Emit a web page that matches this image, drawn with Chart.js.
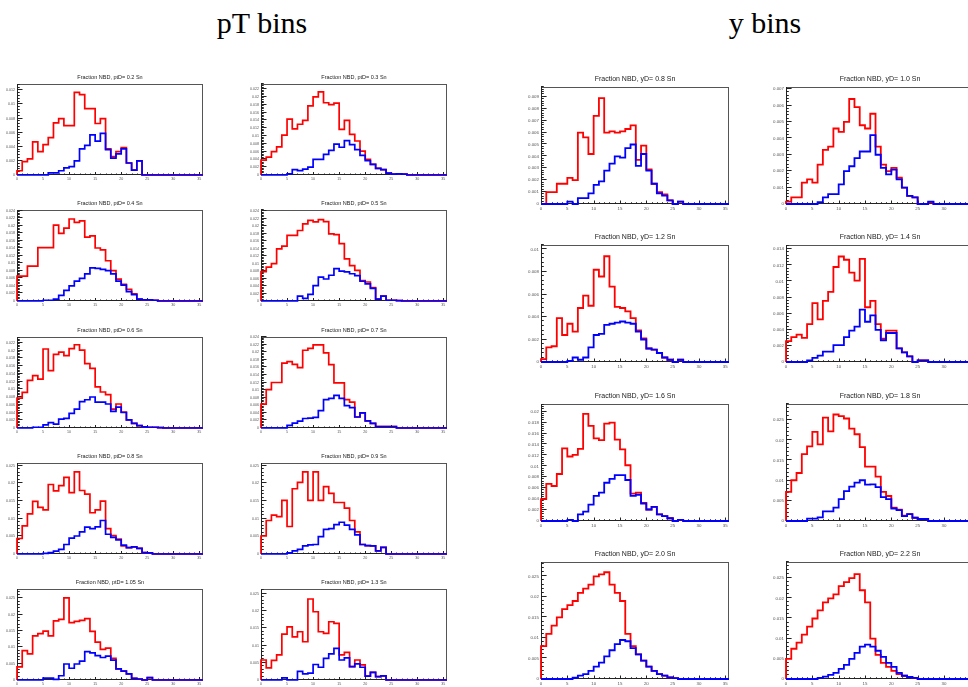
<!DOCTYPE html>
<html>
<head>
<meta charset="utf-8">
<title>NBD fractions</title>
<script src="https://cdn.jsdelivr.net/npm/chart.js@4.4.1/dist/chart.umd.min.js"></script>
<style>
  html, body { margin: 0; padding: 0; background: #fff; overflow: hidden; }
  body { width: 968px; height: 687px; position: relative; }
  .group-title {
    position: absolute;
    font-family: "Liberation Serif", "Times New Roman", serif;
    font-size: 30px;
    line-height: 30px;
    color: #000;
    transform: translateX(-50%);
    white-space: nowrap;
  }
  canvas { position: absolute; }
</style>
</head>
<body>
<div class="group-title" style="left:262px; top:8px;">pT bins</div>
<div class="group-title" style="left:765px; top:8px;">y bins</div>
<script>
// histograms: 36 unit bins starting at 0, missing trailing bins are empty
const NBINS = 36;
const X_MAX = 35.7;

// ---- pT bins ----
const ptTitles = [
  'Fraction NBD, ptD= 0.2 Sn', 'Fraction NBD, ptD= 0.3 Sn',
  'Fraction NBD, ptD= 0.4 Sn', 'Fraction NBD, ptD= 0.5 Sn',
  'Fraction NBD, ptD= 0.6 Sn', 'Fraction NBD, ptD= 0.7 Sn',
  'Fraction NBD, ptD= 0.8 Sn', 'Fraction NBD, ptD= 0.9 Sn',
  'Fraction NBD, ptD= 1.05 Sn', 'Fraction NBD, ptD= 1.3 Sn'
];
const ptRed = [
  [0.0006,0.0019,0.0023,0.0047,0.0033,0.0043,0.0053,0.0074,0.0080,0.0070,0.0070,0.0117,0.0114,0.0094,0.0094,0.0073,0.0080,0.0037,0.0026,0.0033,0.0039,0.0017,0.0007,0.0020],
  [0.0038,0.0046,0.0060,0.0072,0.0102,0.0143,0.0118,0.0130,0.0140,0.0177,0.0200,0.0213,0.0185,0.0180,0.0184,0.0117,0.0140,0.0104,0.0087,0.0061,0.0040,0.0027,0.0017,0.0014,0.0005,0.0002,0.0003,0.0002],
  [0.0066,0.0066,0.0093,0.0093,0.0142,0.0142,0.0142,0.0202,0.0180,0.0194,0.0218,0.0209,0.0213,0.0170,0.0173,0.0141,0.0136,0.0107,0.0081,0.0058,0.0044,0.0031,0.0019,0.0005,0.0003,0.0003,0.0002],
  [0.0079,0.0091,0.0100,0.0140,0.0147,0.0176,0.0176,0.0189,0.0207,0.0216,0.0212,0.0218,0.0213,0.0180,0.0178,0.0154,0.0113,0.0095,0.0082,0.0055,0.0051,0.0036,0.0005,0.0013,0.0002,0.0002,0.0001],
  [0.0077,0.0092,0.0123,0.0135,0.0126,0.0204,0.0148,0.0190,0.0196,0.0187,0.0205,0.0215,0.0201,0.0166,0.0154,0.0106,0.0093,0.0086,0.0049,0.0062,0.0041,0.0021,0.0012,0.0006,0.0003,0.0002,0.0002,0.0001],
  [0.0063,0.0101,0.0120,0.0120,0.0171,0.0175,0.0168,0.0159,0.0205,0.0210,0.0219,0.0219,0.0198,0.0167,0.0119,0.0119,0.0075,0.0068,0.0029,0.0040,0.0019,0.0012,0.0004,0.0004,0.0004,0.0004],
  [0.0044,0.0080,0.0114,0.0149,0.0132,0.0125,0.0197,0.0179,0.0194,0.0217,0.0174,0.0233,0.0180,0.0170,0.0117,0.0125,0.0150,0.0072,0.0052,0.0042,0.0023,0.0018,0.0020,0.0016,0.0004,0.0003],
  [0.0051,0.0095,0.0110,0.0106,0.0152,0.0078,0.0185,0.0203,0.0233,0.0152,0.0233,0.0152,0.0191,0.0172,0.0146,0.0146,0.0130,0.0095,0.0063,0.0027,0.0024,0.0023,0.0009,0.0019],
  [0.0040,0.0090,0.0080,0.0135,0.0142,0.0150,0.0135,0.0181,0.0186,0.0252,0.0176,0.0180,0.0183,0.0188,0.0149,0.0116,0.0094,0.0098,0.0066,0.0034,0.0027,0.0019,0.0005,0.0003,0,0.0007],
  [0.0058,0.0035,0.0057,0.0073,0.0133,0.0154,0.0125,0.0140,0.0111,0.0235,0.0198,0.0140,0.0135,0.0169,0.0164,0.0073,0.0080,0.0039,0.0058,0.0044,0.0011,0.0022,0.0010,0.0012]
];
const ptBlue = [
  [0,0,0,0,0,0,0.0003,0.0003,0.0006,0.0010,0.0012,0.0020,0.0037,0.0042,0.0057,0.0048,0.0059,0.0036,0.0024,0.0030,0.0037,0.0017,0.0007,0.0020],
  [0,0,0,0,0,0.0003,0.0014,0.0011,0.0015,0.0020,0.0040,0.0040,0.0053,0.0063,0.0079,0.0071,0.0088,0.0078,0.0065,0.0050,0.0037,0.0027,0.0017,0.0014,0.0005,0.0002,0.0003,0.0002],
  [0,0,0,0,0,0.0002,0.0002,0.0005,0.0015,0.0028,0.0040,0.0053,0.0060,0.0072,0.0088,0.0087,0.0084,0.0081,0.0072,0.0053,0.0042,0.0025,0.0017,0.0005,0.0003,0.0003,0.0002],
  [0,0,0,0,0,0,0,0.0013,0.0007,0.0018,0.0041,0.0064,0.0059,0.0069,0.0087,0.0080,0.0078,0.0073,0.0068,0.0053,0.0046,0.0034,0.0005,0.0013,0.0002,0.0002,0.0001],
  [0,0,0,0.0002,0.0002,0.0008,0.0014,0.0010,0.0023,0.0025,0.0038,0.0049,0.0068,0.0073,0.0080,0.0067,0.0067,0.0062,0.0043,0.0054,0.0040,0.0021,0.0012,0.0006,0.0003,0.0002,0.0002,0.0001],
  [0,0,0,0,0,0.0007,0.0013,0.0018,0.0025,0.0026,0.0028,0.0046,0.0075,0.0078,0.0086,0.0078,0.0059,0.0054,0.0029,0.0040,0.0019,0.0012,0.0004,0.0004,0.0004,0.0004],
  [0,0,0,0,0,0.0002,0.0004,0.0008,0.0013,0.0027,0.0045,0.0051,0.0063,0.0076,0.0072,0.0077,0.0095,0.0056,0.0047,0.0040,0.0025,0.0018,0.0020,0.0016,0.0004,0.0003],
  [0,0,0,0,0,0.0003,0.0009,0.0013,0.0023,0.0026,0.0027,0.0049,0.0070,0.0072,0.0083,0.0090,0.0082,0.0070,0.0054,0.0027,0.0024,0.0023,0.0009,0.0019],
  [0,0,0,0,0,0.0006,0.0006,0.0002,0.0013,0.0049,0.0036,0.0049,0.0058,0.0087,0.0083,0.0075,0.0069,0.0073,0.0061,0.0034,0.0027,0.0019,0.0005,0.0003,0,0.0007],
  [0,0,0,0,0.0006,0,0,0.0025,0.0018,0.0020,0.0045,0.0037,0.0063,0.0076,0.0092,0.0058,0.0064,0.0039,0.0047,0.0037,0.0011,0.0022,0.0010,0.0012]
];
const ptYMax = [0.0129, 0.0233, 0.0242, 0.0244, 0.0235, 0.0240, 0.0258, 0.0258, 0.0279, 0.0264];
const ptYStep = [0.002, 0.002, 0.002, 0.002, 0.002, 0.002, 0.005, 0.005, 0.005, 0.005];

// ---- y bins ----
const yTitles = [
  'Fraction NBD, yD= 0.8 Sn', 'Fraction NBD, yD= 1.0 Sn',
  'Fraction NBD, yD= 1.2 Sn', 'Fraction NBD, yD= 1.4 Sn',
  'Fraction NBD, yD= 1.6 Sn', 'Fraction NBD, yD= 1.8 Sn',
  'Fraction NBD, yD= 2.0 Sn', 'Fraction NBD, yD= 2.2 Sn'
];
const yRed = [
  [0,0.0010,0.0010,0.0017,0.0017,0.0022,0.0020,0.0060,0.0056,0.0042,0.0074,0.0089,0.0060,0.0061,0.0060,0.0061,0.0063,0.0066,0.0037,0.0049,0.0029,0.0017,0.0010,0.0008,0.0003,0,0.0002],
  [0.00015,0.0004,0.0004,0.0013,0.0015,0.0013,0.0024,0.0033,0.0035,0.0046,0.0044,0.0050,0.0064,0.0059,0.0048,0.0046,0.0055,0.0035,0.0024,0.0020,0.0022,0.0016,0.0010,0.0005,0.0004,0,0,0.0001],
  [0.00025,0.0013,0.0014,0.0039,0.0024,0.0034,0.0027,0.0048,0.0059,0.0050,0.0082,0.0076,0.0094,0.0067,0.0049,0.0048,0.0045,0.0039,0.0028,0.0021,0.0012,0.0011,0.0008,0.0004,0.0002,0,0.0002],
  [0.0026,0.0031,0.0034,0.0030,0.0047,0.0073,0.0053,0.0076,0.0087,0.0118,0.0131,0.0127,0.0111,0.0101,0.0128,0.0068,0.0076,0.0047,0.0029,0.0039,0.0039,0.0017,0.0012,0.0007,0,0.0002,0.0002],
  [0.0040,0.0068,0.0064,0.0086,0.0133,0.0118,0.0121,0.0132,0.0196,0.0174,0.0151,0.0148,0.0178,0.0180,0.0149,0.0131,0.0102,0.0050,0.0052,0.0033,0.0021,0.0026,0.0012,0.0009,0.0005,0,0.0002],
  [0.0072,0.0101,0.0119,0.0166,0.0185,0.0221,0.0190,0.0256,0.0222,0.0264,0.0260,0.0254,0.0229,0.0215,0.0183,0.0135,0.0135,0.0110,0.0072,0.0062,0.0033,0.0028,0.0013,0.0017,0.0008,0.0005,0.0005],
  [0.0080,0.0110,0.0130,0.0150,0.0170,0.0180,0.0190,0.0210,0.0220,0.0230,0.0250,0.0255,0.0260,0.0230,0.0210,0.0190,0.0110,0.0080,0.0060,0.0045,0.0030,0.0020,0.0012,0.0008,0.0004,0.0002],
  [0.0050,0.0075,0.0090,0.0110,0.0130,0.0150,0.0170,0.0190,0.0200,0.0210,0.0230,0.0240,0.0250,0.0260,0.0220,0.0190,0.0100,0.0060,0.0040,0.0030,0.0020,0.0012,0.0008,0.0005,0.0003]
];
const yBlue = [
  [0,0,0,0,0,0.0002,0,0.0005,0.0005,0.0009,0.0016,0.0019,0.0028,0.0034,0.0040,0.0039,0.0047,0.0050,0.0032,0.0042,0.0028,0.0017,0.0009,0.0007,0.0003,0,0.0002],
  [0,0,0,0,0,0,0.00012,0.0004,0.0006,0.0006,0.0012,0.0020,0.0023,0.0028,0.0032,0.0032,0.0042,0.0030,0.0022,0.0018,0.0021,0.0015,0.0010,0.0005,0.0004,0,0,0.00015],
  [0,0,0,0,0,0.0001,0.0004,0.0002,0.0004,0.0013,0.0024,0.0025,0.0033,0.0034,0.0035,0.0036,0.0035,0.0034,0.0027,0.0020,0.0012,0.0011,0.0008,0.0004,0.0002,0,0.0002],
  [0,0,0,0,0.0002,0.0005,0.0008,0.0013,0.0013,0.0021,0.0021,0.0031,0.0039,0.0044,0.0065,0.0050,0.0058,0.0040,0.0027,0.0036,0.0036,0.0017,0.0012,0.0007,0,0.0002,0.0002],
  [0,0,0,0,0,0.0002,0,0.0012,0.0017,0.0030,0.0046,0.0052,0.0070,0.0077,0.0084,0.0084,0.0075,0.0046,0.0048,0.0032,0.0021,0.0026,0.0012,0.0009,0.0005,0,0.0002],
  [0,0,0,0,0.0006,0.0006,0.0009,0.0024,0.0024,0.0033,0.0054,0.0074,0.0085,0.0095,0.0101,0.0090,0.0091,0.0084,0.0059,0.0054,0.0031,0.0027,0.0012,0.0017,0.0008,0.0005,0.0005],
  [0,0,0,0,0,0,0.0003,0.0008,0.0012,0.0020,0.0030,0.0040,0.0055,0.0070,0.0085,0.0095,0.0092,0.0075,0.0060,0.0045,0.0030,0.0020,0.0012,0.0008,0.0004,0.0002],
  [0,0,0,0,0,0,0.0003,0.0006,0.0010,0.0015,0.0025,0.0035,0.0050,0.0065,0.0080,0.0085,0.0080,0.0070,0.0055,0.0040,0.0030,0.0015,0.0008,0.0005,0.0003]
];
const yYMax = [0.00983, 0.00713, 0.0104, 0.01453, 0.0214, 0.029, 0.0285, 0.029];
const yYStep = [0.001, 0.001, 0.002, 0.002, 0.002, 0.005, 0.005, 0.005];

// page layout of the two grids (frame boxes)
const ptGrid = {
  cols: [17, 261], rows: [84, 210, 337, 463, 589], w: 186, h: 91,
  padL: 22, padT: 14, padR: 6, padB: 9,
  titleSize: 5.5, titleLine: 7, titlePad: { top: 4, bottom: 3 },
  tickSize: 3.6, xTick: 3, yTick: 5.5, lineW: 1.7
};
const yGrid = {
  cols: [541, 786], rows: [87, 245, 404, 562], w: 188, h: 117,
  padL: 26, padT: 16, padR: 6, padB: 10,
  titleSize: 7, titleLine: 8, titlePad: { top: 4, bottom: 4 },
  tickSize: 4.4, xTick: 3.5, yTick: 5.6, lineW: 1.8
};

// step outline of a histogram, closed down to zero at both ends
function histPoints(values) {
  const pts = [{ x: 0, y: 0 }];
  for (let i = 0; i < NBINS; i++) {
    const v = values[i] || 0;
    pts.push({ x: i, y: v }, { x: i + 1, y: v });
  }
  pts.push({ x: NBINS, y: 0 });
  return pts;
}

function onStep(value, step) {
  const r = value / step;
  return Math.abs(r - Math.round(r)) < 1e-6;
}

// frame box plus inward tick marks like a ROOT pad
const rootFrame = {
  id: 'rootFrame',
  beforeDatasetsDraw(chart, args, opts) {
    const { ctx, chartArea: a } = chart;
    const xs = chart.scales.x, ys = chart.scales.y;
    ctx.save();
    ctx.strokeStyle = '#555';
    ctx.lineWidth = 1;
    ctx.strokeRect(Math.round(a.left) + 0.5, Math.round(a.top) + 0.5,
      Math.round(a.width) - 1, Math.round(a.height) - 1);
    ctx.strokeStyle = '#222';
    ctx.beginPath();
    const yMinor = opts.yStep / 5;
    for (let k = 0; k * yMinor <= ys.max + 1e-12; k++) {
      const py = Math.round(ys.getPixelForValue(k * yMinor)) - 0.5;
      const len = k % 5 === 0 ? opts.yTick : opts.yTick / 2;
      ctx.moveTo(a.left, py);
      ctx.lineTo(a.left + len, py);
    }
    for (let k = 0; k <= Math.floor(xs.max); k++) {
      const px = Math.round(xs.getPixelForValue(k)) + 0.5;
      const len = k % 5 === 0 ? opts.xTick : opts.xTick / 2;
      ctx.moveTo(px, a.bottom);
      ctx.lineTo(px, a.bottom - len);
    }
    ctx.moveTo(Math.round(a.left) + 0.5, a.top);
    ctx.lineTo(Math.round(a.left) + 0.5, a.bottom);
    ctx.moveTo(a.left, Math.round(a.bottom) - 0.5);
    ctx.lineTo(a.right, Math.round(a.bottom) - 0.5);
    ctx.stroke();
    ctx.restore();
  }
};

function makePanel(g, col, row, title, red, blue, yMax, yStep) {
  const canvas = document.createElement('canvas');
  canvas.width = g.padL + g.w + g.padR;
  canvas.height = g.padT + g.h + g.padB;
  canvas.style.left = (g.cols[col] - g.padL) + 'px';
  canvas.style.top = (g.rows[row] - g.padT) + 'px';
  document.body.appendChild(canvas);

  const tickFont = { family: '"Liberation Sans", Arial, sans-serif', size: g.tickSize };
  return new Chart(canvas, {
    type: 'line',
    data: {
      datasets: [
        { data: histPoints(blue), borderColor: '#0000ff', borderWidth: g.lineW },
        { data: histPoints(red), borderColor: '#ff0000', borderWidth: g.lineW }
      ]
    },
    options: {
      responsive: false,
      animation: false,
      events: [],
      parsing: false,
      layout: { padding: { left: 0, right: g.padR, top: 0, bottom: 0 } },
      elements: {
        point: { radius: 0 },
        line: { tension: 0, borderJoinStyle: 'miter', fill: false }
      },
      datasets: { line: { clip: { left: 2, top: 2, right: 0, bottom: 2 } } },
      scales: {
        x: {
          type: 'linear', min: 0, max: X_MAX,
          grid: { display: false, drawTicks: false },
          border: { display: false },
          afterFit(s) { s.height = g.padB; },
          afterBuildTicks(s) { s.ticks = s.ticks.filter(t => t.value <= s.max && onStep(t.value, 5)); },
          ticks: {
            stepSize: 5, includeBounds: false, autoSkip: false, maxRotation: 0,
            padding: 2, font: tickFont, color: '#555',
            callback: v => String(v)
          }
        },
        y: {
          type: 'linear', min: 0, max: yMax,
          grid: { display: false, drawTicks: false },
          border: { display: false },
          afterFit(s) { s.width = g.padL; },
          afterBuildTicks(s) { s.ticks = s.ticks.filter(t => t.value <= s.max + 1e-12 && onStep(t.value, yStep)); },
          ticks: {
            stepSize: yStep, includeBounds: false, autoSkip: false,
            padding: 2, font: tickFont, color: '#555',
            callback: v => String(+v.toFixed(4))
          }
        }
      },
      plugins: {
        legend: { display: false },
        tooltip: { enabled: false },
        title: {
          display: true, text: title, fullSize: false, color: '#222',
          font: { family: '"Liberation Sans", Arial, sans-serif', size: g.titleSize, weight: 'normal', lineHeight: g.titleLine + 'px' },
          padding: g.titlePad
        },
        rootFrame: { yStep: yStep, xTick: g.xTick, yTick: g.yTick }
      }
    },
    plugins: [rootFrame]
  });
}

ptTitles.forEach((t, i) => {
  makePanel(ptGrid, i % 2, Math.floor(i / 2), t, ptRed[i], ptBlue[i], ptYMax[i], ptYStep[i]);
});
yTitles.forEach((t, i) => {
  makePanel(yGrid, i % 2, Math.floor(i / 2), t, yRed[i], yBlue[i], yYMax[i], yYStep[i]);
});
</script>
</body>
</html>
